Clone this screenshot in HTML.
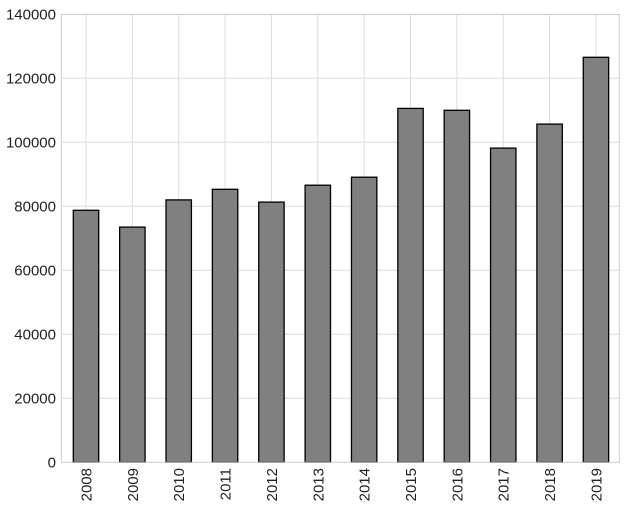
<!DOCTYPE html><html><head><style>body{margin:0;background:#fff}</style></head><body>
<svg width="627" height="507" xmlns="http://www.w3.org/2000/svg" font-family="Liberation Sans, sans-serif" font-size="15" fill="#222">
<g stroke="#dcdcdc" stroke-width="1">
<line x1="61" x2="619" y1="398.3" y2="398.3"/><line x1="61" x2="619" y1="334.3" y2="334.3"/><line x1="61" x2="619" y1="270.3" y2="270.3"/><line x1="61" x2="619" y1="206.3" y2="206.3"/><line x1="61" x2="619" y1="142.3" y2="142.3"/><line x1="61" x2="619" y1="78.3" y2="78.3"/>
<line x1="86" x2="86" y1="14.5" y2="462.3"/><line x1="132.36" x2="132.36" y1="14.5" y2="462.3"/><line x1="178.72" x2="178.72" y1="14.5" y2="462.3"/><line x1="225.08" x2="225.08" y1="14.5" y2="462.3"/><line x1="271.44" x2="271.44" y1="14.5" y2="462.3"/><line x1="317.8" x2="317.8" y1="14.5" y2="462.3"/><line x1="364.16" x2="364.16" y1="14.5" y2="462.3"/><line x1="410.52" x2="410.52" y1="14.5" y2="462.3"/><line x1="456.88" x2="456.88" y1="14.5" y2="462.3"/><line x1="503.24" x2="503.24" y1="14.5" y2="462.3"/><line x1="549.6" x2="549.6" y1="14.5" y2="462.3"/><line x1="595.96" x2="595.96" y1="14.5" y2="462.3"/>
</g>
<g fill="#808080" stroke="#000" stroke-width="1.3">
<rect x="73.3" y="210.3" width="25.4" height="252"/>
<rect x="119.66" y="227.1" width="25.4" height="235.2"/>
<rect x="166.02" y="199.9" width="25.4" height="262.4"/>
<rect x="212.38" y="189.3" width="25.4" height="273"/>
<rect x="258.74" y="202.1" width="25.4" height="260.2"/>
<rect x="305.1" y="185.2" width="25.4" height="277.1"/>
<rect x="351.46" y="177.2" width="25.4" height="285.1"/>
<rect x="397.82" y="108.4" width="25.4" height="353.9"/>
<rect x="444.18" y="110.3" width="25.4" height="352"/>
<rect x="490.54" y="148.1" width="25.4" height="314.2"/>
<rect x="536.9" y="124.1" width="25.4" height="338.2"/>
<rect x="583.26" y="57.3" width="25.4" height="405"/>
</g>
<rect x="61.3" y="14.5" width="558" height="447.8" fill="none" stroke="#cccccc" stroke-width="1"/>
<g text-anchor="end">
<text transform="translate(91.5,468) rotate(-90)">2008</text>
<text transform="translate(137.86,468) rotate(-90)">2009</text>
<text transform="translate(184.22,468) rotate(-90)">2010</text>
<text transform="translate(230.58,468) rotate(-90)">2011</text>
<text transform="translate(276.94,468) rotate(-90)">2012</text>
<text transform="translate(323.3,468) rotate(-90)">2013</text>
<text transform="translate(369.66,468) rotate(-90)">2014</text>
<text transform="translate(416.02,468) rotate(-90)">2015</text>
<text transform="translate(462.38,468) rotate(-90)">2016</text>
<text transform="translate(508.74,468) rotate(-90)">2017</text>
<text transform="translate(555.1,468) rotate(-90)">2018</text>
<text transform="translate(601.46,468) rotate(-90)">2019</text>
<text x="56" y="467.5">0</text><text x="56" y="403.5">20000</text><text x="56" y="339.5">40000</text><text x="56" y="275.5">60000</text><text x="56" y="211.5">80000</text><text x="56" y="147.5">100000</text><text x="56" y="83.5">120000</text><text x="56" y="19.5">140000</text>
</g>
</svg>
</body></html>
